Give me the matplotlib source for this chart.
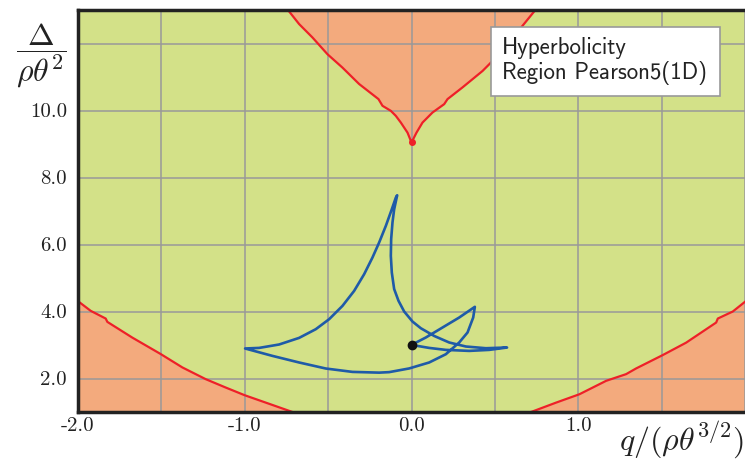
import matplotlib
matplotlib.use("Agg")
import matplotlib.pyplot as plt
import numpy as np
from matplotlib.patches import Rectangle

plt.rcParams['mathtext.fontset'] = 'cm'

# trajectory (closed loop starting at the black dot)
traj_x = [0.0, 0.086, 0.186, 0.286, 0.380, 0.370, 0.336, 0.286, 0.206, 0.106,
          -0.014, -0.134, -0.194, -0.354, -0.514, -0.674, -0.834, -0.998,
          -0.914, -0.794, -0.674, -0.574, -0.494, -0.414, -0.344, -0.284,
          -0.234, -0.194, -0.154, -0.118, -0.094, -0.086,
          -0.104, -0.114, -0.122, -0.124, -0.118, -0.104, -0.078, -0.044,
          0.006, 0.056, 0.136, 0.226, 0.326, 0.446, 0.573,
          0.466, 0.346, 0.206, 0.106, 0.0]
traj_y = [3.003, 3.224, 3.522, 3.82, 4.14, 3.82, 3.373, 3.075, 2.725, 2.478,
          2.30, 2.19, 2.175, 2.197, 2.298, 2.478, 2.675, 2.896,
          2.913, 3.015, 3.212, 3.472, 3.770, 4.167, 4.615, 5.113,
          5.612, 6.060, 6.555, 7.054, 7.40, 7.47,
          7.05, 6.66, 6.16, 5.66, 5.16, 4.67, 4.32, 4.0,
          3.70, 3.50, 3.27, 3.075, 2.955, 2.904, 2.925,
          2.854, 2.824, 2.854, 2.913, 3.003]
start_x, start_y = 0.0, 3.0

# hyperbolicity boundary, top branch
top_x = [-0.744, -0.674, -0.594, -0.504, -0.414, -0.314, -0.198, -0.174, -0.124,
         -0.094, -0.064, -0.024, 0.0, 0.030, 0.066, 0.126, 0.196, 0.216, 0.306,
         0.426, 0.560, 0.666, 0.746]
top_y = [13.02, 12.58, 12.18, 11.68, 11.28, 10.79, 10.34, 10.14, 9.99,
         9.84, 9.64, 9.34, 9.045, 9.34, 9.64, 9.94, 10.19, 10.34, 10.69,
         11.18, 11.85, 12.53, 13.02]

# lower left branch
ll_x = [-2.003, -1.924, -1.834, -1.824, -1.674, -1.504, -1.374, -1.234, -1.114,
        -1.0, -0.874, -0.714]
ll_y = [4.32, 4.02, 3.79, 3.69, 3.22, 2.73, 2.33, 1.98, 1.73, 1.50, 1.28, 1.0]

# lower right branch
lr_x = [0.717, 0.867, 1.007, 1.167, 1.287, 1.347, 1.507, 1.647, 1.827, 1.837,
        1.927, 2.0]
lr_y = [1.0, 1.28, 1.53, 1.93, 2.13, 2.30, 2.70, 3.07, 3.67, 3.79, 4.00, 4.29]

green = '#d3e188'
salmon = '#f3aa7d'
red = '#ee2028'
blue = '#1f5ba8'

fig = plt.figure(figsize=(7.45, 4.59), dpi=100)
ax = fig.add_axes([78/745, 47/459, 1 - 78/745, 402/459])
ax.set_facecolor(green)

ax.fill_between(top_x, top_y, 13.5, color=salmon, lw=0, zorder=1)
ax.fill_between(ll_x, 0.5, ll_y, color=salmon, lw=0, zorder=1)
ax.fill_between(lr_x, 0.5, lr_y, color=salmon, lw=0, zorder=1)

ax.plot(top_x, top_y, color=red, lw=1.6, zorder=3)
ax.plot(ll_x, ll_y, color=red, lw=1.6, zorder=3)
ax.plot(lr_x, lr_y, color=red, lw=1.6, zorder=3)
ax.plot([top_x[12]], [top_y[12]], 'o', color=red, ms=4, zorder=3)

ax.plot(traj_x, traj_y, color=blue, lw=1.9, zorder=4,
        solid_joinstyle='round', solid_capstyle='round')
ax.plot([start_x], [start_y], 'o', color='#111111', ms=6, zorder=5)

ax.set_xlim(-2, 2)
ax.set_ylim(1, 13)

xt = np.arange(-2, 2.01, 0.5)
ax.set_xticks(xt)
ax.set_xticklabels(['-2.0', '', '-1.0', '', '0.0', '', '1.0', '', ''],
                   fontfamily='cmr10', fontsize=15, color='#222222')
yt = [2, 4, 6, 8, 10, 12]
ax.set_yticks(yt)
ax.set_yticklabels(['2.0', '4.0', '6.0', '8.0', '10.0', ''],
                   fontfamily='cmr10', fontsize=15, color='#222222')
ax.tick_params(axis='x', length=0, pad=4)
ax.tick_params(axis='y', length=0, pad=8)
ax.grid(True, color='#999999', lw=1.1, zorder=2)
for g in ax.get_xgridlines() + ax.get_ygridlines():
    g.set_zorder(2)

for s in ['left', 'bottom', 'top']:
    ax.spines[s].set_linewidth(2.5)
    ax.spines[s].set_color('#222222')
    ax.spines[s].set_zorder(6)
ax.spines['right'].set_visible(False)

fig.text(41/745, 1 - 56/459, r'$\dfrac{\Delta}{\rho\theta^2}$', fontsize=23,
         ha='center', va='center', color='#222222')
fig.text(744/745, 1 - 440/459, r'$q/(\rho\theta^{3/2})$', fontsize=23,
         ha='right', va='center', color='#222222')

# legend box
ax.add_patch(Rectangle((491/745, 1 - 96/459), 229/745, 69/459,
                       transform=fig.transFigure, facecolor='white',
                       edgecolor='#999999', lw=1.2, zorder=7))
fig.text(502/745, 1 - 48/459, 'Hyperbolicity', fontfamily='cmss10',
         fontsize=16.5, va='center', color='#222222', zorder=8)
fig.text(502/745, 1 - 73/459, 'Region Pearson5(1D)', fontfamily='cmss10',
         fontsize=16.5, va='center', color='#222222', zorder=8)

fig.savefig('out.png', dpi=100)
